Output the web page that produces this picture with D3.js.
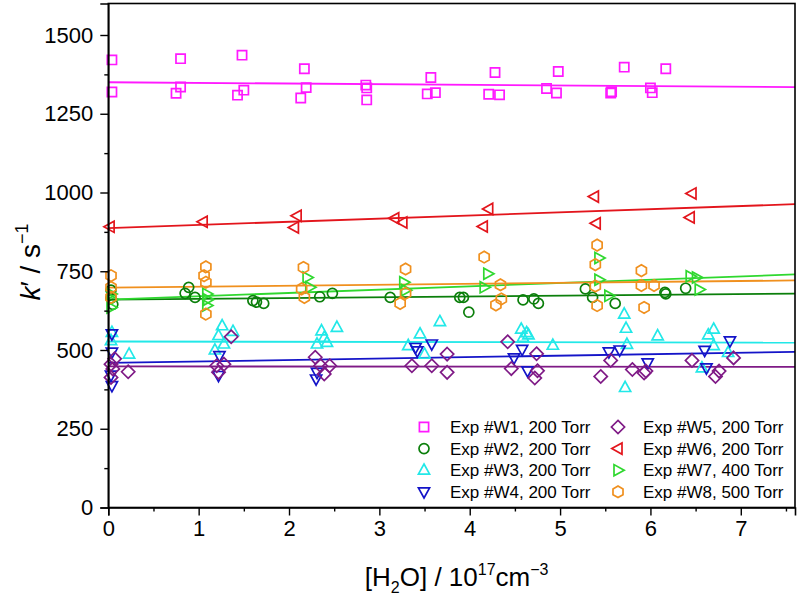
<!DOCTYPE html>
<html><head><meta charset="utf-8">
<script src="https://cdn.jsdelivr.net/npm/d3@7"></script>
<style>body{margin:0;background:#fff}svg{display:block}</style>
</head><body>
<svg id="c" width="799" height="597"></svg>
<script>
// ---------- data ----------
const seriesNames = ["Exp #W1, 200 Torr","Exp #W2, 200 Torr","Exp #W3, 200 Torr","Exp #W4, 200 Torr",
                     "Exp #W5, 200 Torr","Exp #W6, 200 Torr","Exp #W7, 400 Torr","Exp #W8, 500 Torr"];
const w1 = [[0.04,1421],[0.04,1319],[0.80,1425],[0.75,1315],[0.80,1335],[1.48,1436],[1.43,1309],[1.50,1325],
  [2.17,1393],[2.13,1300],[2.19,1333],[2.85,1341],[2.86,1332],[2.86,1294],[3.57,1365],[3.53,1313],[3.62,1317],
  [4.28,1381],[4.21,1312],[4.33,1310],[4.98,1384],[4.85,1330],[4.96,1316],[5.71,1398],[5.56,1316],[5.57,1320],
  [6.17,1393],[6.00,1332],[6.02,1317]];
const w2 = [[0.03,690],[0.03,665],[0.05,645],[0.89,699],[0.85,680],[0.96,667],[1.60,657],[1.64,652],[1.72,648],
  [2.34,669],[2.48,680],[3.12,667],[3.89,667],[3.93,667],[3.99,620],[4.59,659],[4.71,662],[4.76,648],
  [5.28,694],[5.36,667],[5.61,648],[6.16,683],[6.17,678],[6.39,696]];
const w3 = [[0.04,556],[0.03,530],[0.23,487],[1.26,577],[1.22,546],[1.38,559],[1.28,519],[1.18,500],
  [2.36,561],[2.39,540],[2.31,519],[2.53,572],[2.42,524],[3.45,551],[3.32,514],[3.50,487],[3.67,590],
  [4.57,566],[4.63,555],[4.65,548],[4.59,540],[4.92,515],[5.71,614],[5.73,569],[5.74,518],[5.72,381],
  [6.08,545],[6.70,566],[6.64,548],[6.70,514],[6.57,443],[6.86,492]];
const w4 = [[0.04,551],[0.04,493],[0.03,420],[0.04,387],[1.23,482],[1.22,419],[2.31,429],[2.30,408],
  [3.40,508],[3.42,497],[3.58,519],[4.58,502],[4.49,475],[4.64,434],[5.54,494],[5.66,500],[5.97,459],
  [6.60,499],[6.62,443],[6.88,529]];
const w5 = [[0.07,472],[0.03,455],[0.03,413],[0.05,440],[0.22,431],[1.36,542],[1.20,450],[1.22,429],[1.28,455],
  [2.29,477],[2.35,450],[2.45,450],[2.39,424],[3.36,450],[3.58,450],[3.75,487],[3.75,429],
  [4.42,526],[4.46,441],[4.74,488],[4.75,434],[4.72,411],[5.45,416],[5.56,467],[5.80,438],[5.93,427],[5.95,433],
  [6.46,467],[6.72,416],[6.76,433],[6.92,475]];
const w6 = [[0.02,891],[1.05,907],[2.09,926],[2.06,889],[3.17,918],[3.26,905],[4.21,948],[4.15,892],
  [5.38,987],[5.40,902],[6.46,997],[6.44,921]];
const w7 = [[0.03,678],[0.03,635],[0.04,660],[1.09,678],[1.09,641],[1.10,660],[2.20,730],[2.23,699],[3.27,715],[3.29,690],
  [4.20,742],[4.16,699],[5.43,792],[5.43,723],[5.54,672],[6.44,734],[6.54,692],[6.51,730]];
const w8 = [[0.03,736],[0.03,699],[0.03,667],[1.08,764],[1.06,736],[1.08,715],[1.08,614],[2.16,762],[2.14,694],[2.17,667],
  [3.29,757],[3.29,680],[3.23,648],[4.16,795],[4.34,707],[4.35,662],[4.29,643],[5.41,833],[5.39,771],[5.39,703],
  [5.41,641],[5.90,752],[5.90,705],[6.04,705],[5.93,635]];
const seriesData = [w1,w2,w3,w4,w5,w6,w7,w8];
// linear fits: intercept, slope
const fitIntercepts = [1350, 660, 527, 459, 448, 887, 660, 698];
const fitSlopes     = [-2.0, 2.5, -0.5, 4.6, -0.2, 10.0, 10.5, 3.0];
const colors = ["#ff19ff","#0b7f0b","#22e8e8","#1414c8","#7f1a86","#e3151c","#2fd82f","#f0901e"];
const shapes = ["square","circle","triUp","triDown","diamond","triLeft","triRight","hexagon"];
const xTicks = [0,1,2,3,4,5,6,7];
const yTicks = [0,250,500,750,1000,1250,1500];

// ---------- layout ----------
const L = 108.3, R = 795, T = 3.5, B = 507.5;
const x = d3.scaleLinear().domain([0,7.6]).range([L,R]);
const y = d3.scaleLinear().domain([0,1600]).range([B,T]);
const svg = d3.select("#c");
const font = "'Liberation Sans', Arial, sans-serif";

function markerPath(s){
  switch(s){
    case "square": return "M-4.6,-4.6h9.2v9.2h-9.2Z";
    case "circle": return "M5,0A5,5 0 1,1 -5,0A5,5 0 1,1 5,0Z";
    case "triUp": return "M0,-6.2L5.6,4L-5.6,4Z";
    case "triDown": return "M0,6.2L5.6,-4L-5.6,-4Z";
    case "diamond": return "M0,-6.6L6.6,0L0,6.6L-6.6,0Z";
    case "triLeft": return "M-6.2,0L4,-5.6L4,5.6Z";
    case "triRight": return "M6.2,0L-4,-5.6L-4,5.6Z";
    case "hexagon": {
      const r=5.8; const pts=d3.range(6).map(i=>{const a=Math.PI/2+i*Math.PI/3;return [r*Math.cos(a),r*Math.sin(a)];});
      return "M"+pts.map(p=>p[0].toFixed(2)+","+p[1].toFixed(2)).join("L")+"Z";
    }
  }
}

// clip
svg.append("clipPath").attr("id","clip").append("rect").attr("x",L).attr("y",T).attr("width",R-L).attr("height",B-T);

// fits
const gFit = svg.append("g").attr("clip-path","url(#clip)");
const dom = x.domain();
seriesData.forEach((d,i)=>{
  gFit.append("line")
    .attr("x1",x(dom[0])).attr("y1",y(fitIntercepts[i]+fitSlopes[i]*dom[0]))
    .attr("x2",x(dom[1])).attr("y2",y(fitIntercepts[i]+fitSlopes[i]*dom[1]))
    .attr("stroke",colors[i]).attr("stroke-width",1.8);
});

// points
const gPts = svg.append("g");
seriesData.forEach((d,i)=>{
  gPts.selectAll(null).data(d).enter().append("path")
    .attr("d",markerPath(shapes[i]))
    .attr("transform",p=>`translate(${x(p[0])},${y(p[1])})`)
    .attr("fill","none").attr("stroke",colors[i]).attr("stroke-width",1.7);
});

// frame
svg.append("rect").attr("x",L).attr("y",T).attr("width",R-L).attr("height",B-T)
  .attr("fill","none").attr("stroke","#000").attr("stroke-width",1.6);

// axes
svg.append("g").attr("transform",`translate(0,${B})`)
  .call(d3.axisBottom(x).tickValues(xTicks).tickFormat(d3.format("d")).tickSize(8).tickPadding(5));
svg.append("g").attr("transform",`translate(0,${B})`)
  .call(d3.axisBottom(x).tickValues(d3.range(0.5,7.6,1)).tickFormat("").tickSize(4))
  .call(g=>g.select(".domain").remove());
svg.append("g").attr("transform",`translate(${L},0)`)
  .call(d3.axisLeft(y).tickValues(yTicks).tickFormat(d3.format("d")).tickSize(8).tickPadding(7));
svg.append("g").attr("transform",`translate(${L},0)`)
  .call(d3.axisLeft(y).tickValues(d3.range(125,1600,250)).tickFormat("").tickSize(4))
  .call(g=>g.select(".domain").remove());
svg.selectAll(".domain").attr("stroke-width",1.6);
svg.selectAll(".tick line").attr("stroke-width",1.4);
svg.selectAll(".tick text").attr("font-family",font).attr("font-size",22).attr("fill","#000");

// axis titles
const xt = svg.append("text").attr("x",(L+R)/2+5).attr("y",586).attr("text-anchor","middle")
  .attr("font-family",font).attr("font-size",26).attr("fill","#000");
xt.append("tspan").text("[H");
xt.append("tspan").attr("font-size",16).attr("dy",7).text("2");
xt.append("tspan").attr("dy",-7).text("O] / 10");
xt.append("tspan").attr("font-size",16).attr("dy",-11).text("17");
xt.append("tspan").attr("dy",11).text("cm");
xt.append("tspan").attr("font-size",16).attr("dy",-11).text("\u22123");

const yt = svg.append("text").attr("transform","translate(40,262) rotate(-90)").attr("text-anchor","middle")
  .attr("font-family",font).attr("font-size",28).attr("fill","#000");
yt.append("tspan").attr("font-style","italic").text("k");
yt.append("tspan").text("\u2032 / s");
yt.append("tspan").attr("font-size",18).attr("dy",-12).text("\u22121");

// legend
const legX = [424, 618], legTX = [450, 643], legY0 = 427, legDY = 21.6;
seriesNames.forEach((n,i)=>{
  const col = Math.floor(i/4), row = i%4;
  const cy = legY0 + row*legDY;
  svg.append("path").attr("d",markerPath(shapes[i])).attr("transform",`translate(${legX[col]},${cy})`)
    .attr("fill","none").attr("stroke",colors[i]).attr("stroke-width",1.7);
  svg.append("text").attr("x",legTX[col]).attr("y",cy).attr("dy","0.35em")
    .attr("font-family",font).attr("font-size",17).attr("fill","#000").text(n);
});
</script>
</body></html>
